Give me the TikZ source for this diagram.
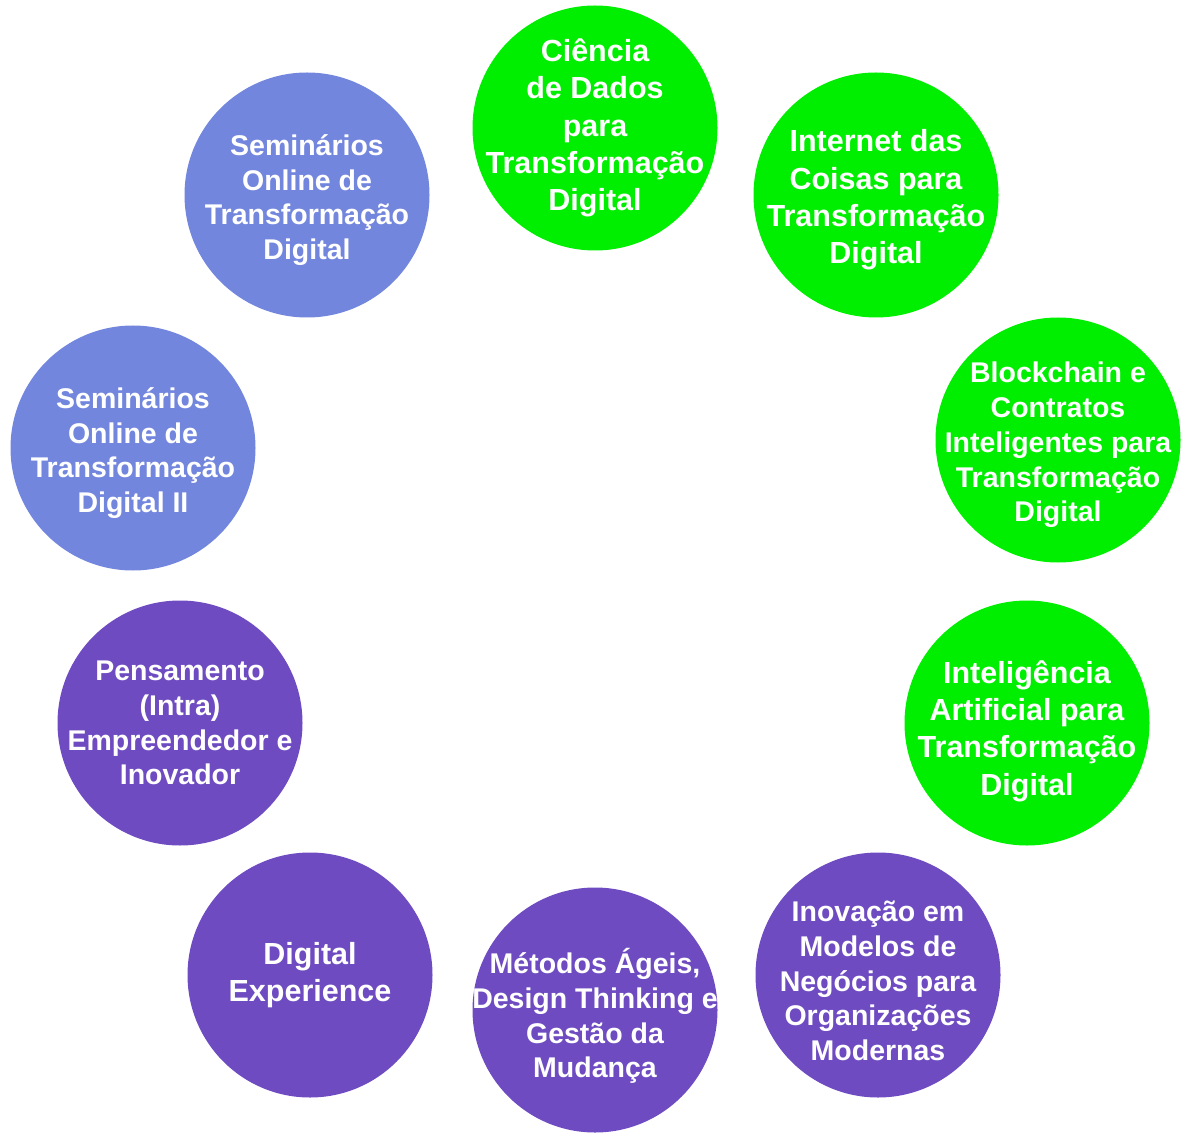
\documentclass[tikz,border=0pt]{standalone}
\usepackage{fontspec}
\setmainfont{Liberation Sans}
\usepackage{tikz}
\usetikzlibrary{shapes}
\definecolor{tdGreen}{RGB}{0,238,0}
\definecolor{tdBlue}{RGB}{115,134,221}
\definecolor{tdPurple}{RGB}{110,75,193}

\begin{document}
\begin{tikzpicture}[x=1pt, y=-1pt]%
  \tikzset{disc/.style={circle, draw=none, minimum size=245pt, outer sep=0pt, inner sep=0pt},
           big text/.style={text=white, align=center, inner sep=0pt, font=\bfseries\fontsize{30.5}{37.3}\selectfont},
           small text/.style={text=white, align=center, inner sep=0pt, font=\bfseries\fontsize{28.5}{34.8}\selectfont}}

  \useasboundingbox (0,0) rectangle (1191,1139);

  \node[disc, fill=tdGreen] at (595,128) (CD) {};
  \node[disc, fill=tdGreen] at (876,195) (IoT) {};
  \node[disc, fill=tdGreen] at (1058,440) (BC) {};
  \node[disc, fill=tdGreen] at (1027,723) (IA) {};
  \node[disc, fill=tdPurple] at (878,975) (IMN) {};
  \node[disc, fill=tdPurple] at (595,1010) (MAG) {};
  \node[disc, fill=tdPurple] at (310,975) (DX) {};
  \node[disc, fill=tdPurple] at (180,723) (PIE) {};
  \node[disc, fill=tdBlue] at (133,448) (SOT2) {};
  \node[disc, fill=tdBlue] at (307,195) (SOT) {};

  \node[big text] at (CD) (CDt) {Ciência\\de Dados\\para\\Transformação\\Digital};
  \node[big text, yshift=-5pt] at (IoT) (IoTt) {Internet das\\Coisas para\\Transformação\\Digital};
  \node[small text, yshift=-5pt] at (BC) (BCt) {Blockchain e\\Contratos\\Inteligentes para\\Transformação\\Digital};
  \node[big text, yshift=-8pt] at (IA) (IAt) {Inteligência\\Artificial para\\Transformação\\Digital};
  \node[small text, yshift=-6pt] at (IMN) (IMNt) {Inovação em\\Modelos de\\Negócios para\\Organizações\\Modernas};
  \node[small text, yshift=-6pt] at (MAG) (MAGt) {Métodos Ágeis,\\Design Thinking e\\Gestão da\\Mudança};
  \node[big text] at (DX) (DXt) {Digital\\Experience};
  \node[small text] at (PIE) (PIEt) {Pensamento\\(Intra)\\Empreendedor e\\Inovador};
  \node[small text, yshift=-5pt] at (SOT2) (SOT2t) {Seminários\\Online de\\Transformação\\Digital II};
  \node[small text, yshift=-5pt] at (SOT) (SOTt) {Seminários\\Online de\\Transformação\\Digital};

\end{tikzpicture}
\end{document}
